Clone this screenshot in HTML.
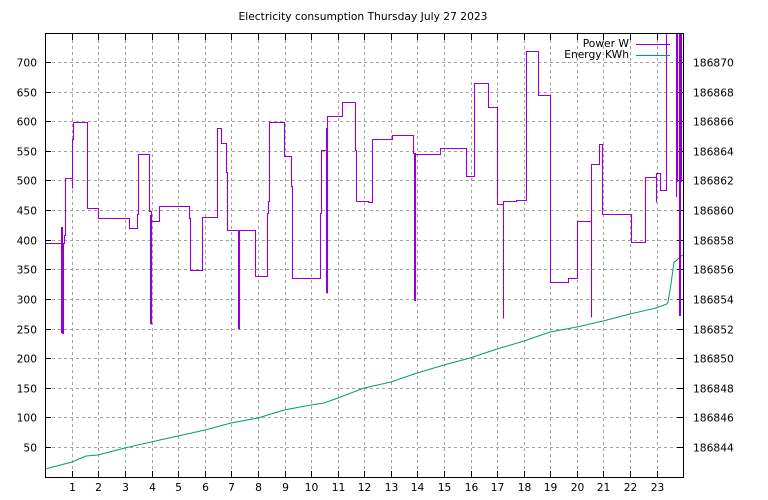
<!DOCTYPE html>
<html><head><meta charset="utf-8"><style>
body{margin:0;background:#fff}
svg{display:block;font-family:"DejaVu Sans","Liberation Sans",sans-serif;font-size:10.7px}
</style></head><body>
<svg width="768" height="500" viewBox="0 0 768 500" xmlns="http://www.w3.org/2000/svg">
<rect width="768" height="500" fill="#fff"/>
<g id="grid" stroke="#a0a0a0" stroke-width="1" stroke-dasharray="3,3" fill="none" shape-rendering="crispEdges"></g>
<g id="ticks" stroke="#000" stroke-width="1" shape-rendering="crispEdges"></g>
<g id="labels" fill="#000"></g>
<text x="363" y="20" text-anchor="middle">Electricity consumption Thursday July 27 2023</text>
<polyline fill="none" stroke="#009e73" stroke-width="1" points="45,469 72,462 86,456 98,455 125,448 151,442 178,436 205,430 231,423 258,418 284,410 311,405 324,403 338,398 364,388 391,382 417,373 444,365 470,358 497,349 524,341 550,332 577,327 603,321 630,314 656,308 667,304 668,302 671,284 674,262 676,261 681,256 683,255"/>
<g transform="translate(0.5,0.5)">
<polyline fill="none" stroke="#9400d3" stroke-width="1.1" points="45,243 62,243 62,227 62,333 63,333 63,243 64,243 64,235 65,235 65,178 72,178 72,188 72,139 73,139 73,122 87,122 87,208 98,208 98,218 129,218 129,228 137,228 137,214 138,214 138,154 149,154 149,211 151,211 151,324 151,221 159,221 159,206 189,206 189,218 190,218 190,270 202,270 202,217 217,217 217,128 221,128 221,143 226,143 226,172 227,172 227,230 239,230 239,329 239,230 255,230 255,276 267,276 267,213 268,213 268,201 269,201 269,122 284,122 284,156 291,156 291,186 292,186 292,278 320,278 320,213 321,213 321,150 326,150 327,128 327,293 327,116 342,116 342,102 355,102 355,150 356,150 356,201 368,201 368,202 372,202 372,139 392,139 392,135 413,135 413,153 415,153 415,300 415,154 440,154 440,148 466,148 466,176 474,176 474,83 488,83 488,107 497,107 497,204 503,204 503,318 503,201 516,201 516,200 526,200 526,51 538,51 538,95 550,95 550,201 550,282 568,282 568,278 577,278 577,221 591,221 591,317 591,164 599,164 599,144 602,144 602,214 631,214 631,242 645,242 645,177 656,177 656,202 656,173 660,173 660,190 666,190 666,33"/>
</g>
<g stroke="#9400d3" stroke-width="1.1" fill="none">
<line x1="676.5" y1="33" x2="676.5" y2="197"/><line x1="677.5" y1="33" x2="677.5" y2="182"/>
<line x1="679.5" y1="33" x2="679.5" y2="316"/><line x1="680.5" y1="33" x2="680.5" y2="316"/><line x1="681.5" y1="33" x2="681.5" y2="182"/>
<polyline points="62,227 62,333" stroke-width="2"/><polyline points="151,215 151,324" stroke-width="2"/>
<polyline points="239,230 239,329" stroke-width="2"/><polyline points="327,128 327,293" stroke-width="2"/>
<polyline points="415,153 415,301" stroke-width="2"/>
</g>
<text x="629" y="47" text-anchor="end">Power W</text>
<line x1="636" y1="44.5" x2="670" y2="44.5" stroke="#9400d3" stroke-width="1"/>
<text x="629" y="58" text-anchor="end">Energy KWh</text>
<line x1="636" y1="55.5" x2="670" y2="55.5" stroke="#009e73" stroke-width="1"/>
<rect x="45.5" y="33.5" width="638" height="444" fill="none" stroke="#000" stroke-width="1"/>
</svg>
<script>
(function(){
var ns="http://www.w3.org/2000/svg";
var g=document.getElementById("grid"),t=document.getElementById("ticks"),l=document.getElementById("labels");
function el(p,n,a,txt){var e=document.createElementNS(ns,n);for(var k in a)e.setAttribute(k,a[k]);if(txt)e.textContent=txt;p.appendChild(e);}
for(var h=1;h<=23;h++){var x=Math.round(45.3+h*26.58)+0.5;
el(g,"line",{x1:x,y1:34,x2:x,y2:477});
el(t,"line",{x1:x,y1:477,x2:x,y2:471});el(t,"line",{x1:x,y1:34,x2:x,y2:40});
el(l,"text",{x:x,y:491,"text-anchor":"middle"},String(h));}
for(var v=50;v<=700;v+=50){var y=Math.round(476.6-v*0.5923)+0.5;
el(g,"line",{x1:46,y1:y,x2:683,y2:y});
el(t,"line",{x1:45,y1:y,x2:51,y2:y});el(t,"line",{x1:683,y1:y,x2:677,y2:y});
el(l,"text",{x:37,y:y+4,"text-anchor":"end"},String(v));}
for(var r=186844;r<=186870;r+=2){var y2=Math.round(476.6-(r-186842)*25*0.5923)+0.5;
el(l,"text",{x:693,y:y2+4},String(r));}
})();
</script>
</body></html>
